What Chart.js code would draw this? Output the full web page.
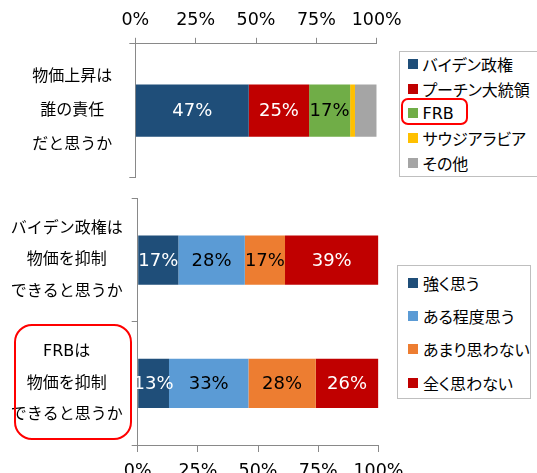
<!DOCTYPE html>
<html><head><meta charset="utf-8">
<script src="https://cdn.jsdelivr.net/npm/chart.js@4/dist/chart.umd.min.js"></script>
<style>
html,body{margin:0;padding:0;background:#fff;width:537px;height:473px;overflow:hidden;position:relative;}
canvas{position:absolute;left:0;}
#c1{top:0;}
#c2{top:190px;}
.legend{position:absolute;box-sizing:border-box;border:1px solid #bfbfbf;background:#fff;font-family:"DejaVu Sans","Noto Sans CJK JP",sans-serif;font-size:16px;color:#000;font-feature-settings:"palt";}
.item{position:absolute;display:flex;align-items:center;white-space:nowrap;}
.sw{width:10px;height:10px;flex:none;}
.hl{position:absolute;box-sizing:border-box;border:2px solid #ff0000;}
</style></head>
<body>
<canvas id="c1" width="537" height="190"></canvas>
<canvas id="c2" width="537" height="283"></canvas>
<div id="leg1" class="legend" style="left:399px;top:51px;width:140px;height:126px;"></div>
<div id="leg2" class="legend" style="left:397px;top:265px;width:134px;height:134px;"></div>
<div class="hl" style="left:401px;top:98px;width:67px;height:27px;border-radius:7px;"></div>
<div class="hl" style="left:14px;top:324px;width:118px;height:116px;border-radius:18px;"></div>
<script>
// ---- data ----
const pctTicks = [0, 25, 50, 75, 100];

const topCategories = [['物価上昇は', '誰の責任', 'だと思うか']];
const topSeriesNames = ['バイデン政権', 'プーチン大統領', 'FRB', 'サウジアラビア', 'その他'];
const topBiden = [47];
const topPutin = [25];
const topFRB = [17];
const topSaudi = [2];
const topOther = [9];

const bottomCategories = [['バイデン政権は', '物価を抑制', 'できると思うか'], ['FRBは', '物価を抑制', 'できると思うか']];
const bottomSeriesNames = ['強く思う', 'ある程度思う', 'あまり思わない', '全く思わない'];
const stronglyAgree = [16.9, 13];
const somewhatAgree = [27.6, 33];
const notReally = [16.7, 28];
const notAtAll = [38.8, 26];

// ---- styles ----
const topColors = ['#1F4E79', '#C00000', '#70AD47', '#FFC000', '#A5A5A5'];
const topLabelColors = ['#ffffff', '#ffffff', '#000000', null, null];
const bottomColors = ['#1F4E79', '#5B9BD5', '#ED7D31', '#C00000'];
const bottomLabelColors = ['#ffffff', '#000000', '#000000', '#ffffff'];
const FONT = '"DejaVu Sans", "Noto Sans CJK JP", sans-serif';
const AXIS = '#898989';

const barLabels = {
  id: 'barLabels',
  afterDatasetsDraw(chart, args, opts) {
    const ctx = chart.ctx;
    ctx.save();
    ctx.font = '18px ' + FONT;
    ctx.textAlign = 'center';
    ctx.textBaseline = 'middle';
    chart.data.datasets.forEach((ds, i) => {
      const col = opts.colors[i];
      if (!col) return;
      chart.getDatasetMeta(i).data.forEach((el, j) => {
        const p = el.getProps(['x', 'y', 'base'], true);
        ctx.fillStyle = col;
        ctx.fillText(Math.round(ds.data[j]) + '%', (p.x + p.base) / 2, p.y + 1);
      });
    });
    ctx.restore();
  }
};

function makeChart(canvasId, cats, names, series, colors, labelColors, cfg) {
  return new Chart(document.getElementById(canvasId), {
    type: 'bar',
    data: {
      labels: cats,
      datasets: names.map((n, i) => ({
        label: n, data: series[i], backgroundColor: colors[i],
        borderWidth: 0, barPercentage: cfg.barPct, categoryPercentage: 1
      }))
    },
    plugins: [barLabels],
    options: {
      indexAxis: 'y', responsive: false, animation: false,
      layout: { padding: cfg.padding },
      plugins: { legend: { display: false }, tooltip: { enabled: false }, barLabels: { colors: labelColors } },
      scales: {
        x: {
          stacked: true, min: 0, max: 100, position: cfg.xPos,
          grid: { drawOnChartArea: false, tickLength: cfg.xTick, color: AXIS },
          border: { color: AXIS, width: 1 },
          afterBuildTicks: s => { s.ticks = pctTicks.map(v => ({ value: v })); },
          ticks: { callback: v => v + '%', padding: cfg.xPad, color: '#000', font: { family: FONT, size: 17.5 } },
          afterFit: s => { s.height = cfg.xHeight; }
        },
        y: {
          stacked: true,
          grid: { offset: true, drawOnChartArea: false, tickLength: 6, color: AXIS },
          border: { color: AXIS, width: 1 },
          ticks: { crossAlign: 'center', padding: cfg.yPad, color: '#000', font: { family: FONT, size: 16, lineHeight: cfg.lh } },
          afterFit: s => { s.width = cfg.yWidth; s.paddingTop = 0; s.paddingBottom = 0; }
        }
      }
    }
  });
}

makeChart('c1', topCategories, topSeriesNames, [topBiden, topPutin, topFRB, topSaudi, topOther], topColors, topLabelColors,
  { barPct: 0.39, padding: { left: 0, right: 160.3, top: 0, bottom: 12.6 }, xPos: 'top', xTick: 6, xPad: 7, xHeight: 43.8, yPad: 17, lh: '34px', yWidth: 135.3 });
makeChart('c2', bottomCategories, bottomSeriesNames, [stronglyAgree, somewhatAgree, notReally, notAtAll], bottomColors, bottomLabelColors,
  { barPct: 0.40, padding: { left: 0, right: 158.6, top: 8.6, bottom: 0 }, xPos: 'bottom', xTick: 7, xPad: 9, xHeight: 28, yPad: 9, lh: '31.6px', yWidth: 137.7 });

// ---- HTML legends built from the series arrays ----
function buildLegend(id, names, colors, startTop, step, swLeft) {
  const box = document.getElementById(id);
  names.forEach((n, i) => {
    const it = document.createElement('div');
    it.className = 'item';
    it.style.left = swLeft + 'px';
    it.style.top = (startTop + i * step) + 'px';
    it.style.height = step + 'px';
    const sw = document.createElement('span');
    sw.className = 'sw';
    sw.style.background = colors[i];
    sw.style.marginRight = '5px';
    const tx = document.createElement('span');
    tx.textContent = n;
    it.appendChild(sw); it.appendChild(tx);
    box.appendChild(it);
  });
}
buildLegend('leg1', topSeriesNames, topColors, -0.5, 24.8, 7.5);
buildLegend('leg2', bottomSeriesNames, bottomColors, 0, 33.3, 10);
</script>
</body></html>
